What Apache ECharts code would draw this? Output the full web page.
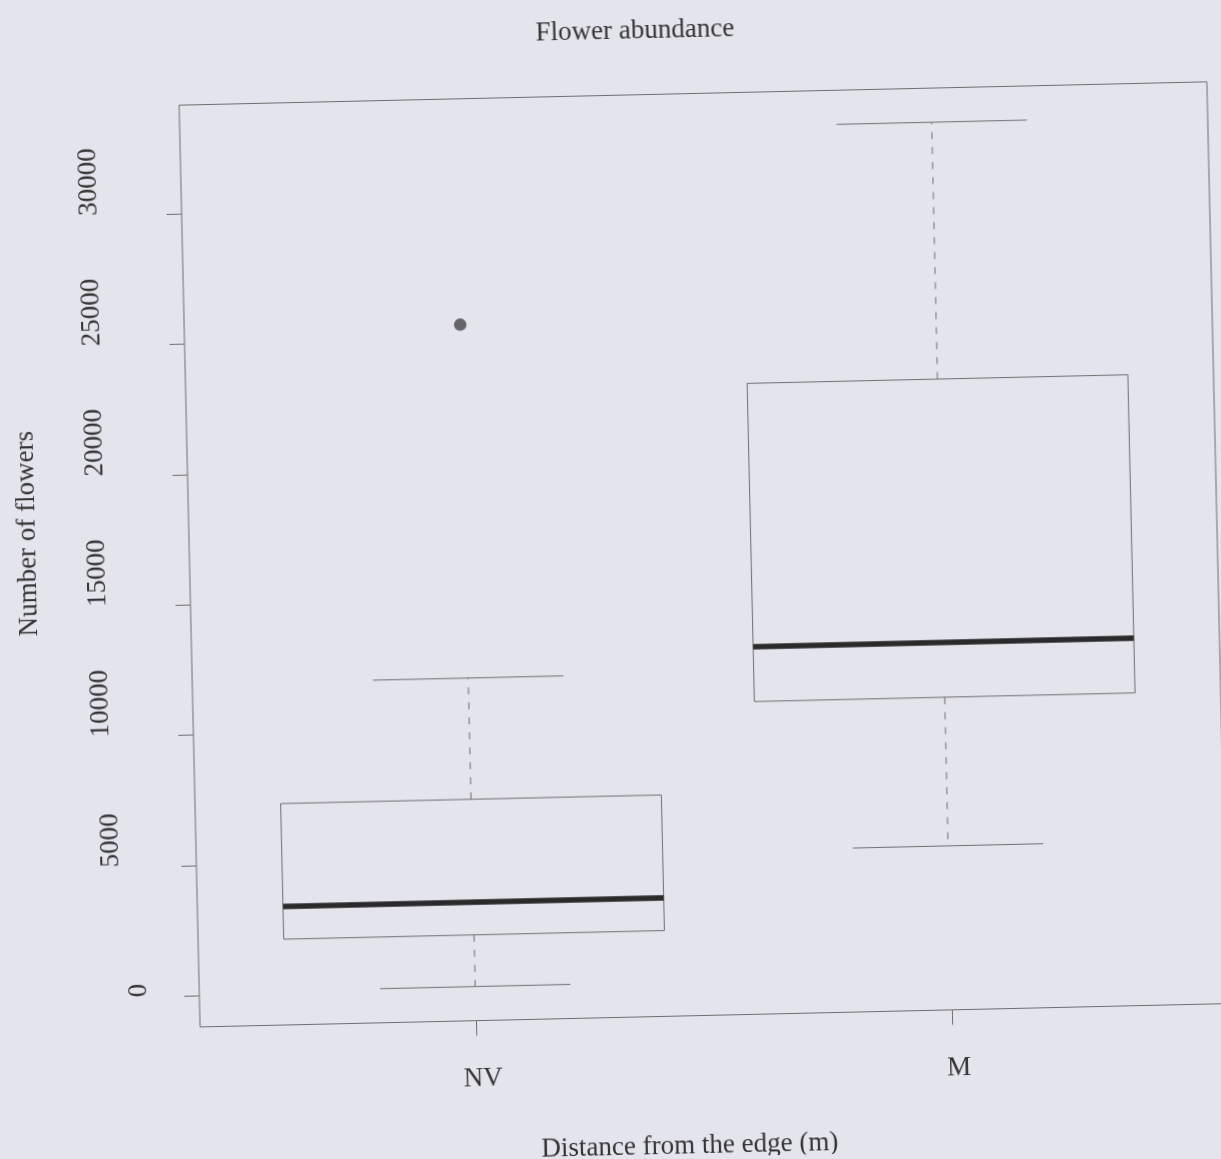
<!DOCTYPE html>
<html>
<head>
<meta charset="utf-8">
<title>Flower abundance</title>
<script src="https://cdn.jsdelivr.net/npm/echarts@6/dist/echarts.min.js"></script>
<style>
  html, body { margin: 0; padding: 0; background: #e4e4ec; overflow: hidden; }
  /* the printed figure sits slightly tilted on the page */
  #chart { width: 1221px; height: 1159px; transform: rotate(-1.3deg); transform-origin: 610.5px 579.5px; }
</style>
</head>
<body>
<div id="chart"></div>
<script>
// Box-and-whisker summary of flower counts per distance class
const categories   = ['NV', 'M'];
const whiskerLow   = [120, 5100];
const lowerQuart   = [2100, 10800];
const medians      = [3350, 12900];
const upperQuart   = [7300, 23000];
const whiskerHigh  = [11950, 32850];
// outliers: [category index, value]
const outliers     = [[0, 25500]];
const yTickValues  = [0, 5000, 10000, 15000, 20000, 25000, 30000];

const FONT = 'Liberation Serif';
const TEXT = '#333333';
const LINE = '#6e6e6e';
const BOX_WIDTH = 0.8;   // in category units
const STAPLE = 0.5;      // cap width relative to box width

// R-style axis ranges: 4% padding around the data extent
const allValues = whiskerLow.concat(whiskerHigh, outliers.map(o => o[1]));
const dMin = Math.min.apply(null, allValues);
const dMax = Math.max.apply(null, allValues);
const yPad = 0.04 * (dMax - dMin);
const xPad = 0.04 * categories.length;

const boxData = categories.map((c, i) => [i + 1, whiskerLow[i], lowerQuart[i], medians[i], upperQuart[i], whiskerHigh[i]]);
const outlierData = outliers.map(o => [o[0] + 1, o[1]]);

function renderBox(params, api) {
  const x = api.value(0);
  const lo = api.coord([x, api.value(1)]);
  const q1 = api.coord([x, api.value(2)]);
  const md = api.coord([x, api.value(3)]);
  const q3 = api.coord([x, api.value(4)]);
  const hi = api.coord([x, api.value(5)]);
  const bw = api.size([BOX_WIDTH, 0])[0];
  const cw = bw * STAPLE;
  const cx = lo[0];
  const thin = { stroke: LINE, lineWidth: 1, fill: null };
  const dashed = { stroke: LINE, lineWidth: 1, lineDash: [7, 8] };
  return {
    type: 'group',
    children: [
      { type: 'line', shape: { x1: cx, y1: q3[1], x2: cx, y2: hi[1] }, style: dashed },
      { type: 'line', shape: { x1: cx, y1: q1[1], x2: cx, y2: lo[1] }, style: dashed },
      { type: 'line', shape: { x1: cx - cw / 2, y1: hi[1], x2: cx + cw / 2, y2: hi[1] }, style: thin },
      { type: 'line', shape: { x1: cx - cw / 2, y1: lo[1], x2: cx + cw / 2, y2: lo[1] }, style: thin },
      { type: 'rect', shape: { x: cx - bw / 2, y: q3[1], width: bw, height: q1[1] - q3[1] }, style: thin },
      { type: 'line', shape: { x1: cx - bw / 2, y1: md[1], x2: cx + bw / 2, y2: md[1] },
        style: { stroke: '#2a2a2a', lineWidth: 5.5, lineCap: 'butt' } }
    ]
  };
}

// tick labels sit at different distances from the axis depending on their length
const labelLineHeight = { 1: 40, 4: 90, 5: 104 };
const yRich = {};
Object.keys(labelLineHeight).forEach(k => {
  yRich['d' + k] = { fontFamily: FONT, fontSize: 27, color: TEXT, lineHeight: labelLineHeight[k] };
});

const chart = echarts.init(document.getElementById('chart'), null, { renderer: 'canvas' });
chart.setOption({
  animation: false,
  backgroundColor: 'transparent',
  title: {
    text: 'Flower abundance',
    left: 548, top: 18, padding: 0,
    textStyle: { fontFamily: FONT, fontSize: 27, fontWeight: 'normal', color: TEXT, lineHeight: 27 }
  },
  grid: {
    show: true, left: 190, right: 3, top: 95.5, bottom: 141.5,
    outerBoundsMode: 'none',
    borderColor: LINE, borderWidth: 1, backgroundColor: 'transparent'
  },
  xAxis: {
    type: 'value',
    min: 0.5 - xPad, max: categories.length + 0.5 + xPad,
    name: 'Distance from the edge (m)',
    nameLocation: 'middle', nameGap: 117, nameMoveOverlap: false,
    nameTextStyle: { fontFamily: FONT, fontSize: 27, color: TEXT, lineHeight: 27, padding: [0, 54, 0, 0] },
    axisLine: { show: false, onZero: false },
    splitLine: { show: false },
    axisTick: { customValues: categories.map((c, i) => i + 1), length: 15, lineStyle: { color: LINE } },
    axisLabel: {
      customValues: categories.map((c, i) => i + 1),
      formatter: v => categories[Math.round(v) - 1],
      margin: 45, fontFamily: FONT, fontSize: 27, color: TEXT, lineHeight: 27,
      padding: [0, 0, 0, 12]
    }
  },
  yAxis: {
    type: 'value',
    min: dMin - yPad, max: dMax + yPad,
    name: 'Number of flowers',
    nameLocation: 'middle', nameRotate: 90, nameGap: 148, nameMoveOverlap: false,
    nameTextStyle: { fontFamily: FONT, fontSize: 27, color: TEXT, lineHeight: 27, padding: [0, 0, 0, 72] },
    axisLine: { show: false, onZero: false },
    splitLine: { show: false },
    axisTick: { customValues: yTickValues, length: 15, lineStyle: { color: LINE } },
    axisLabel: {
      customValues: yTickValues,
      rotate: 90, align: 'left', verticalAlign: 'bottom', margin: 40,
      fontFamily: FONT, fontSize: 27, color: TEXT,
      formatter: v => '{d' + String(v).length + '|' + v + '}',
      rich: yRich
    }
  },
  series: [
    {
      type: 'custom',
      renderItem: renderBox,
      encode: { x: 0, y: [1, 2, 3, 4, 5] },
      data: boxData,
      z: 2
    },
    {
      type: 'scatter',
      data: outlierData,
      symbol: 'circle', symbolSize: 12.5,
      itemStyle: { color: '#454545' },
      z: 3
    }
  ]
});
</script>
</body>
</html>
